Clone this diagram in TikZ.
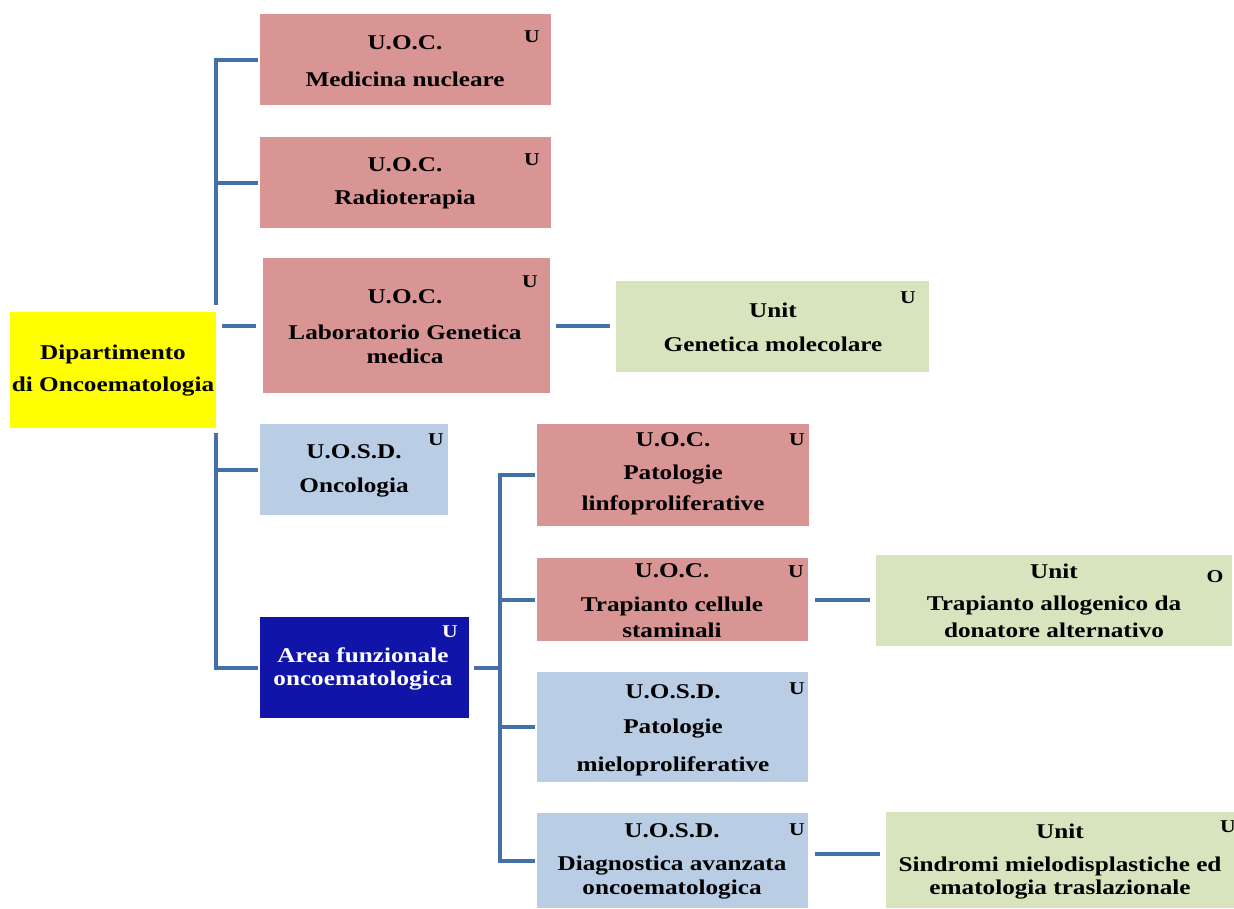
\documentclass[tikz,border=0pt]{standalone}
\usepackage{fontspec}
\setmainfont{Liberation Serif}[FakeStretch=1.2]
\definecolor{pinkc}{HTML}{D99594}
\definecolor{bluec}{HTML}{B9CDE5}
\definecolor{greenc}{HTML}{D7E4BD}
\definecolor{yellowc}{HTML}{FFFF00}
\definecolor{darkc}{HTML}{1014A8}
\definecolor{connc}{HTML}{4470A8}
\tikzset{
  box/.style={rectangle, draw=none, inner sep=0pt},
  pinkbox/.style={box, fill=pinkc},
  bluebox/.style={box, fill=bluec},
  greenbox/.style={box, fill=greenc},
  txt/.style={inner sep=0pt, font=\fontsize{21}{25}\selectfont\bfseries, text=black},
  wtxt/.style={txt, text=white},
  umark/.style={inner sep=0pt, font=\fontsize{18}{20}\selectfont\bfseries, text=black},
  conn/.style={draw=connc, line width=4pt},
}
\begin{document}
\begin{tikzpicture}[x=1pt,y=-1pt]
\useasboundingbox[fill=white] (0,0) rectangle (1234,908);
% boxes
\node[pinkbox, minimum width=291pt, minimum height=91pt] (med) at (405.5,59.5) {};
\node[pinkbox, minimum width=291pt, minimum height=91pt] (rad) at (405.5,182.5) {};
\node[pinkbox, minimum width=287pt, minimum height=135pt] (lab) at (406.5,325.5) {};
\node[box, fill=yellowc, minimum width=206pt, minimum height=116pt] (dip) at (113,370) {};
\node[greenbox, minimum width=313pt, minimum height=91pt] (gen) at (772.5,326.5) {};
\node[bluebox, minimum width=188pt, minimum height=91pt] (onc) at (354,469.5) {};
\node[box, fill=darkc, minimum width=209pt, minimum height=101pt] (area) at (364.5,667.5) {};
\node[pinkbox, minimum width=272pt, minimum height=102pt] (lin) at (673,475) {};
\node[pinkbox, minimum width=271pt, minimum height=83pt] (tcs) at (672.5,599.5) {};
\node[greenbox, minimum width=356pt, minimum height=91pt] (allo) at (1054,600.5) {};
\node[bluebox, minimum width=271pt, minimum height=110pt] (mie) at (672.5,727) {};
\node[bluebox, minimum width=271pt, minimum height=95pt] (dia) at (672.5,860.5) {};
\node[greenbox, minimum width=348pt, minimum height=96pt] (sin) at (1060,860) {};
% connectors
\coordinate (tr1) at (216,305);
\coordinate (tr2) at (216,433);
\coordinate (tr3) at (500,475);
\draw[conn, shorten <=2pt] (med.west) -| (tr1);
\draw[conn, shorten <=2pt] (rad.west) -- (rad.west -| tr1);
\draw[conn, shorten <=6pt, shorten >=7pt] (lab.west -| dip.east) -- (lab.west);
\draw[conn, shorten >=6pt, shorten <=6pt] (lab.east) -- (lab.east -| gen.west);
\draw[conn, shorten >=2pt] (tr2) |- (area.west);
\draw[conn, shorten <=2pt] (onc.west) -- (onc.west -| tr2);
\draw[conn, shorten <=5pt] (area.east) -- (area.east -| tr3);
\draw[conn, shorten <=2pt, shorten >=2pt] (lin.west) -- (lin.west -| tr3) -- (dia.west -| tr3) -- (dia.west);
\draw[conn, shorten <=2pt] (tcs.west) -- (tcs.west -| tr3);
\draw[conn, shorten <=2pt] (mie.west) -- (mie.west -| tr3);
\draw[conn, shorten <=7pt, shorten >=6pt] (tcs.east) -- (tcs.east -| allo.west);
\draw[conn, shorten <=7pt, shorten >=6pt] ([yshift=7pt]dia.east) -- ([yshift=7pt]dia.east -| sin.west);
% texts
\node[txt] (medA) at (405,43) {U.O.C.};
\node[txt] (medB) at (405,79) {Medicina nucleare};
\node[umark] (medU) at (532,37) {U};
\node[txt] (radA) at (405,165) {U.O.C.};
\node[txt] (radB) at (405,199) {Radioterapia};
\node[umark] (radU) at (532,160) {U};
\node[txt] (labA) at (405,297) {U.O.C.};
\node[txt] (labB) at (405,332) {Laboratorio Genetica};
\node[txt] (labC) at (405,356) {medica};
\node[umark] (labU) at (530,282) {U};
\node[txt] (dipA) at (113,354) {Dipartimento};
\node[txt] (dipB) at (113,387) {di Oncoematologia};
\node[txt] (genA) at (773,310) {Unit};
\node[txt] (genB) at (773,344) {Genetica molecolare};
\node[umark] (genU) at (908,298) {U};
\node[txt] (oncA) at (354,452) {U.O.S.D.};
\node[txt] (oncB) at (354,488) {Oncologia};
\node[umark] (oncU) at (436,440) {U};
\node[wtxt] (areaA) at (363,655) {Area funzionale};
\node[wtxt] (areaB) at (363,681) {oncoematologica};
\node[umark, text=white] (areaU) at (450,632) {U};
\node[txt] (linA) at (673,440) {U.O.C.};
\node[txt] (linB) at (673,475) {Patologie};
\node[txt] (linC) at (673,505) {linfoproliferative};
\node[umark] (linU) at (797,440) {U};
\node[txt] (tcsA) at (672,571) {U.O.C.};
\node[txt] (tcsB) at (672,606) {Trapianto cellule};
\node[txt] (tcsC) at (672,630) {staminali};
\node[umark] (tcsU) at (796,572) {U};
\node[txt] (alloA) at (1054,571) {Unit};
\node[txt] (alloB) at (1054,606) {Trapianto allogenico da};
\node[txt] (alloC) at (1054,630) {donatore alternativo};
\node[umark] (alloU) at (1215,577) {O};
\node[txt] (mieA) at (673,692) {U.O.S.D.};
\node[txt] (mieB) at (673,729) {Patologie};
\node[txt] (mieC) at (673,766) {mieloproliferative};
\node[umark] (mieU) at (797,689) {U};
\node[txt] (diaA) at (672,831) {U.O.S.D.};
\node[txt] (diaB) at (672,866) {Diagnostica avanzata};
\node[txt] (diaC) at (672,890) {oncoematologica};
\node[umark] (diaU) at (797,830) {U};
\node[txt] (sinA) at (1060,831) {Unit};
\node[txt] (sinB) at (1060,866) {Sindromi mielodisplastiche ed};
\node[txt] (sinC) at (1060,890) {ematologia traslazionale};
\node[umark] (sinU) at (1228,827) {U};
\end{tikzpicture}
\end{document}
